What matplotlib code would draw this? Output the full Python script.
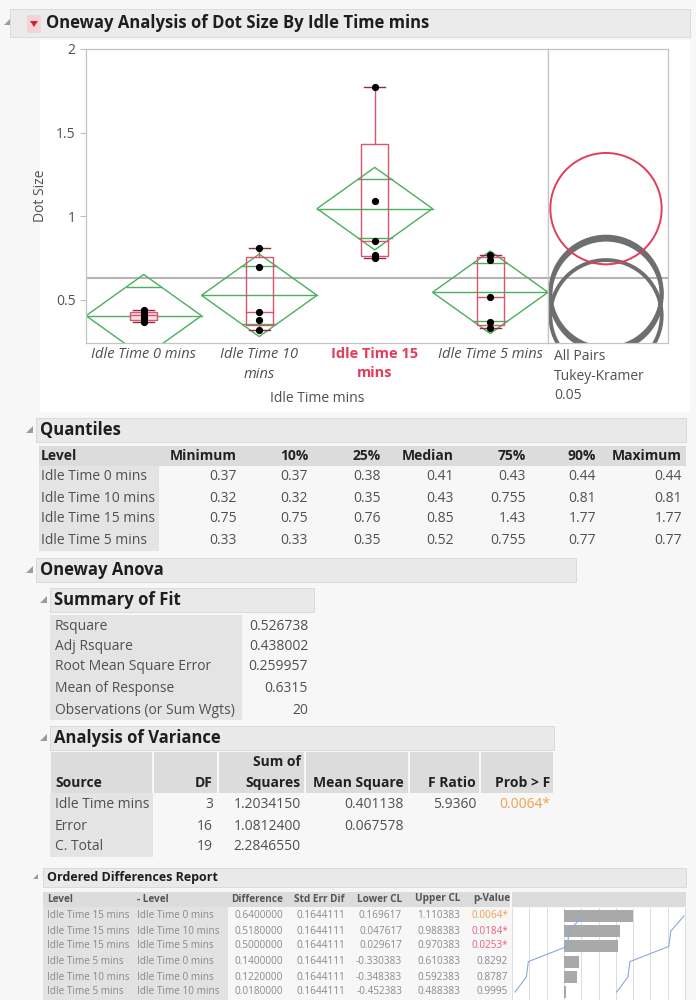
import numpy as np
import matplotlib.pyplot as plt
from matplotlib.patches import Rectangle, Polygon, Ellipse
from matplotlib.ticker import MultipleLocator

plt.rcParams['font.family'] = ['Open Sans', 'DejaVu Sans']

W, H = 696, 1000

# ---- data ----
levels = ["Idle Time 0 mins", "Idle Time 10 mins", "Idle Time 15 mins", "Idle Time 5 mins"]
tick_labels = ["Idle Time 0 mins", "Idle Time 10\nmins", "Idle Time 15\nmins", "Idle Time 5 mins"]
dots_0 = [0.37, 0.39, 0.41, 0.42, 0.44]
dots_10 = [0.32, 0.38, 0.43, 0.70, 0.81]
dots_15 = [0.75, 0.77, 0.85, 1.09, 1.77]
dots_5 = [0.33, 0.37, 0.52, 0.74, 0.77]

q_cols = ["Minimum", "10%", "25%", "Median", "75%", "90%", "Maximum"]
q_min = [0.37, 0.32, 0.75, 0.33]
q_10 = [0.37, 0.32, 0.75, 0.33]
q_25 = [0.38, 0.35, 0.76, 0.35]
q_med = [0.41, 0.43, 0.85, 0.52]
q_75 = [0.43, 0.755, 1.43, 0.755]
q_90 = [0.44, 0.81, 1.77, 0.77]
q_max = [0.44, 0.81, 1.77, 0.77]

fit_labels = ["Rsquare", "Adj Rsquare", "Root Mean Square Error", "Mean of Response",
              "Observations (or Sum Wgts)"]
fit_values = ["0.526738", "0.438002", "0.259957", "0.6315", "20"]

aov_source = ["Idle Time mins", "Error", "C. Total"]
aov_df = ["3", "16", "19"]
aov_ss = ["1.2034150", "1.0812400", "2.2846550"]
aov_ms = ["0.401138", "0.067578", ""]
aov_f = ["5.9360", "", ""]
aov_p = ["0.0064*", "", ""]

od_level = ["Idle Time 15 mins", "Idle Time 15 mins", "Idle Time 15 mins",
            "Idle Time 5 mins", "Idle Time 10 mins", "Idle Time 5 mins"]
od_minus = ["Idle Time 0 mins", "Idle Time 10 mins", "Idle Time 5 mins",
            "Idle Time 0 mins", "Idle Time 0 mins", "Idle Time 10 mins"]
od_diff = [0.64, 0.518, 0.5, 0.14, 0.122, 0.018]
od_se = [0.1644111] * 6
od_lower = [0.169617, 0.047617, 0.029617, -0.330383, -0.348383, -0.452383]
od_upper = [1.110383, 0.988383, 0.970383, 0.610383, 0.592383, 0.488383]
od_p = ["0.0064*", "0.0184*", "0.0253*", "0.8292", "0.8787", "0.9995"]

grand_mean = 0.6315
rmse = 0.259957
t_crit = 2.1199     # t(0.975, 16)
q_tukey = 2.8614    # Tukey-Kramer q*, 4 groups, 16 df

GREEN = '#4cae5e'
BOXRED = '#d95670'
HILITE = '#e23d5b'
TXT = '#505050'
FS = 10


def fx(x):
    return x / W


def fy(y):
    return 1 - y / H


fig = plt.figure(figsize=(W / 100, H / 100), dpi=100, facecolor='#f7f7f7')


def rect(x0, y0, x1, y1, color, ec='none', z=0):
    fig.add_artist(Rectangle((fx(x0), fy(y1)), (x1 - x0) / W, (y1 - y0) / H,
                             transform=fig.transFigure, fc=color, ec=ec, lw=0.6, zorder=z))


def txt(x, y, s, **kw):
    kw.setdefault('color', TXT)
    return fig.text(fx(x), fy(y), s, va='center', **kw)


def disclosure(x, y, s=7):
    pts = [(x + s, y - s / 2), (x + s, y + s / 2), (x, y + s / 2)]
    fig.add_artist(Polygon([(fx(a), fy(b)) for a, b in pts], closed=True,
                           transform=fig.transFigure, fc='#9c9c9c', ec='none'))


def section(x0, x1, y, title, size=12, h=24):
    rect(x0, y - h / 2, x1, y + h / 2, '#e9e9e9', ec='#d6d6d6')
    disclosure(x0 - 10, y - 1, 7 if size > 9 else 5)
    txt(x0 + 4, y, title, fontsize=size, fontweight='bold', color='#1e1e1e')


# ---- title bar ----
rect(10, 9, 690, 37, '#ebebeb', ec='#d8d8d8')
disclosure(4, 22, 6)
rect(27, 15, 41, 33, '#f3d3d8')
fig.add_artist(Polygon([(fx(30), fy(21)), (fx(38), fy(21)), (fx(34), fy(27))],
                       transform=fig.transFigure, fc='#c8283c', ec='none'))
txt(46, 23, "Oneway Analysis of Dot Size By Idle Time mins", fontsize=12,
    fontweight='bold', color='#1e1e1e')
rect(40, 40, 690, 412, 'white')

# ---- oneway plot ----
ax_top, ax_bot = 49, 343
ymin, ymax = 0.243, 2.0
ax = fig.add_axes([fx(86), fy(ax_bot), (548 - 86) / W, (ax_bot - ax_top) / H])
cax = fig.add_axes([fx(548), fy(ax_bot), (668 - 548) / W, (ax_bot - ax_top) / H])

groups = [dots_0, dots_10, dots_15, dots_5]
means = [np.mean(g) for g in groups]
half_ci = [t_crit * rmse / np.sqrt(len(g)) for g in groups]

for i, g in enumerate(groups):
    m, c = means[i], half_ci[i]
    ax.add_patch(Polygon([(i - 0.5, m), (i, m + c), (i + 0.5, m), (i, m - c)],
                         closed=True, fill=False, ec=GREEN, lw=1.0, zorder=2))
    ax.plot([i - 0.5, i + 0.5], [m, m], color=GREEN, lw=1.0, zorder=2)
    ov = c / np.sqrt(2)
    hw = 0.5 * (1 - 1 / np.sqrt(2))
    for s in (1, -1):
        ax.plot([i - hw, i + hw], [m + s * ov, m + s * ov], color=GREEN, lw=1.0, zorder=2)
    # box plot
    bw = 0.115
    ax.add_patch(Rectangle((i - bw, q_25[i]), 2 * bw, q_75[i] - q_25[i],
                           fc='#f6dfe3' if i == 0 else 'none', ec=BOXRED, lw=1.0, zorder=3))
    ax.plot([i - bw, i + bw], [q_med[i], q_med[i]], color=BOXRED, lw=1.0, zorder=3)
    ax.plot([i, i], [q_75[i], q_max[i]], color=BOXRED, lw=1.0, zorder=3)
    ax.plot([i, i], [q_25[i], q_min[i]], color=BOXRED, lw=1.0, zorder=3)
    for v in (q_min[i], q_max[i]):
        ax.plot([i - 0.09, i + 0.09], [v, v], color='#8c3040', lw=1.0, zorder=3)
    ax.plot([i] * len(g), g, 'o', color='black', ms=4.2, zorder=4)

ax.axhline(grand_mean, color='#b4b4b4', lw=1.5, zorder=1)
ax.set_xlim(-0.5, 3.5)
ax.set_ylim(ymin, ymax)
ax.set_yticks([0.5, 1, 1.5, 2], labels=["0.5", "1", "1.5", "2"])
ax.set_xticks(range(4), labels=tick_labels)
ax.tick_params(axis='y', colors='#bdbdbd', labelcolor=TXT, labelsize=FS, length=4, width=0.8)
ax.tick_params(axis='x', length=0, pad=3, labelsize=10.5, labelcolor=TXT)
for i, lab in enumerate(ax.get_xticklabels()):
    lab.set_linespacing(1.45)
    if i == 2:
        lab.set_color(HILITE)
        lab.set_fontweight('bold')
    else:
        lab.set_fontstyle('italic')
for a in (ax, cax):
    for sp in a.spines.values():
        sp.set_color('#c4c4c4')
        sp.set_linewidth(0.9)

# comparison circles
panel_w = 668 - 548
px_per_unit = (ax_bot - ax_top) / (ymax - ymin)
radius = q_tukey * rmse / np.sqrt(5)
cax.set_xlim(0, panel_w)
cax.set_ylim(ymin, ymax)
cax.axhline(grand_mean, color='#b4b4b4', lw=1.5, zorder=1)
for i in [0, 1, 3]:
    cax.add_patch(Ellipse((58, means[i]), 2 * radius * px_per_unit, 2 * radius,
                          fill=False, ec='#6e6e6e', lw=2.8, zorder=2))
cax.add_patch(Ellipse((58, means[2]), 2 * radius * px_per_unit, 2 * radius,
                      fill=False, ec=HILITE, lw=1.4, zorder=3))
cax.set_xticks([])
cax.set_yticks([])

txt(554, 376, "All Pairs\nTukey-Kramer\n0.05", fontsize=FS, linespacing=1.45)
txt(317, 398, "Idle Time mins", fontsize=FS, ha='center')
fig.text(fx(40), fy(196), "Dot Size", rotation=90, ha='center', va='center',
         fontsize=FS, color=TXT)

# ---- Quantiles ----
section(36, 686, 430, "Quantiles")
rect(39, 446, 686, 466, '#dcdcdc')
rect(39, 466, 159, 551, '#e4e4e4')
q_right = [237, 308, 381, 454, 526, 596, 682]
txt(41, 456, "Level", fontsize=FS, fontweight='bold', color='#222')
for x, c in zip(q_right, q_cols):
    txt(x, 456, c, fontsize=FS, fontweight='bold', color='#222', ha='right')
q_table = [q_min, q_10, q_25, q_med, q_75, q_90, q_max]
for r, y in enumerate([477, 498, 519, 540]):
    txt(41, y, levels[r], fontsize=FS)
    for x, col in zip(q_right, q_table):
        txt(x, y, f"{col[r]:g}", fontsize=FS, ha='right')

# ---- Oneway Anova ----
section(36, 576, 570, "Oneway Anova")

section(50, 314, 600, "Summary of Fit")
rect(50, 615, 242, 720, '#e4e4e4')
for lab, val, y in zip(fit_labels, fit_values, [626, 647, 667, 688, 710]):
    txt(55, y, lab, fontsize=FS)
    txt(308, y, val, fontsize=FS, ha='right')

section(50, 554, 738, "Analysis of Variance")
aov_edges = [50, 153, 218, 305, 409, 480, 554]
for x0, x1 in zip(aov_edges[:-1], aov_edges[1:]):
    rect(x0 + 1, 752, x1 - 1, 793, '#dcdcdc')
rect(50, 793, 153, 857, '#e4e4e4')
hdr = dict(fontsize=FS, fontweight='bold', color='#222')
txt(55, 783, "Source", **hdr)
txt(213, 783, "DF", ha='right', **hdr)
txt(301, 762, "Sum of", ha='right', **hdr)
txt(301, 783, "Squares", ha='right', **hdr)
txt(404, 783, "Mean Square", ha='right', **hdr)
txt(476, 783, "F Ratio", ha='right', **hdr)
txt(550, 783, "Prob > F", ha='right', **hdr)
for r, y in enumerate([805, 826, 847]):
    txt(55, y, aov_source[r], fontsize=FS)
    txt(213, y, aov_df[r], fontsize=FS, ha='right')
    txt(301, y, aov_ss[r], fontsize=FS, ha='right')
    txt(404, y, aov_ms[r], fontsize=FS, ha='right')
    txt(476, y, aov_f[r], fontsize=FS, ha='right')
    txt(550, y, aov_p[r], fontsize=FS, ha='right', color='#f0a04b')

# ---- Ordered Differences Report ----
section(43, 686, 877, "Ordered Differences Report", size=9, h=19)
rect(43, 892, 510, 907, '#dcdcdc')
rect(512, 892, 686, 907, '#dcdcdc')
rect(43, 907, 228, 1000, '#e2e2e2')
sm = dict(fontsize=7.2, color='#8a8a8a')
smh = dict(fontsize=7.2, fontweight='bold', color='#555')
od_right = [283, 345, 402, 460, 510]
txt(47, 899, "Level", **smh)
txt(137, 899, "- Level", **smh)
for x, c in zip(od_right, ["Difference", "Std Err Dif", "Lower CL", "Upper CL", "p-Value"]):
    txt(x, 899, c, ha='right', **smh)
od_rows = [916, 931, 946, 961, 977, 992]
for r, y in enumerate(od_rows):
    txt(47, y, od_level[r], **sm)
    txt(137, y, od_minus[r], **sm)
    txt(283, y, f"{od_diff[r]:.7f}", ha='right', **sm)
    txt(345, y, f"{od_se[r]:.7f}", ha='right', **sm)
    txt(402, y, f"{od_lower[r]:.6f}", ha='right', **sm)
    txt(460, y, f"{od_upper[r]:.6f}", ha='right', **sm)
    pc = '#f0a04b' if r == 0 else ('#e8607a' if r < 3 else '#8a8a8a')
    txt(508, y, od_p[r], ha='right', fontsize=7.2, color=pc)

oax = fig.add_axes([fx(512), fy(999.6), (686 - 512) / W, 91.2 / H])
oax.set_facecolor('white')
rows = np.arange(len(od_diff))
oax.barh(rows, od_diff, height=0.8, color='#a9a9a9', zorder=2)
oax.plot(od_lower, rows, color='#8aa8dc', lw=0.8, zorder=3)
oax.plot(od_upper, rows, color='#8aa8dc', lw=0.8, zorder=3)
oax.set_xlim((512 - 564) / 108, (686 - 564) / 108)
oax.set_ylim(5.5, -0.5)
oax.xaxis.set_major_locator(MultipleLocator(0.16))
oax.grid(axis='x', color='#dcdcdc', lw=0.7, zorder=0)
oax.set_axisbelow(True)
oax.tick_params(length=0, labelbottom=False, labelleft=False)
for sp in oax.spines.values():
    sp.set_visible(False)

fig.savefig('out.png', dpi=100, facecolor=fig.get_facecolor())
